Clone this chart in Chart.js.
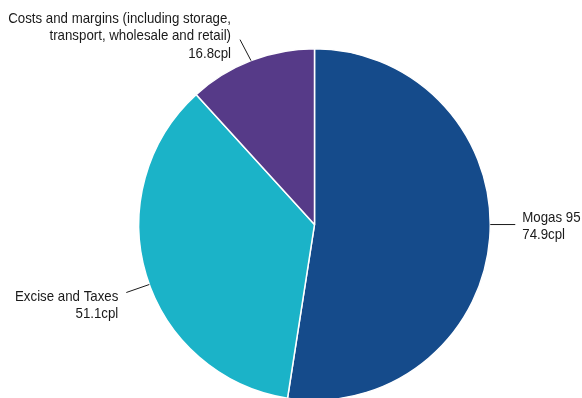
<!DOCTYPE html>
<html>
<head>
<meta charset="utf-8">
<script src="https://cdn.jsdelivr.net/npm/chart.js@4"></script>
<style>
  html, body { margin: 0; padding: 0; background: #fff; overflow: hidden; }
  #wrap { width: 582px; height: 398px; overflow: hidden; }
  #wrap div { width: 582px; height: 410px; position: relative; }
</style>
</head>
<body>
<div id="wrap"><div><canvas id="pieChart"></canvas></div></div>
<script>
const labels = [
  ['Mogas 95'],
  ['Excise and Taxes'],
  ['Costs and margins (including storage,', 'transport, wholesale and retail)']
];
const values = [74.9, 51.1, 16.8];
const colors = ['#154b8b', '#1bb3c8', '#563a88'];

// leader line: angle shift (deg) from slice middle, direction, text placement
const leaders = [
  { shift: -4.4, dx: 25, dy: 0, align: 'left', tx: 7, ty: -7 },
  { shift: -3.2, dx: -23, dy: 8, align: 'right', tx: -8, ty: 4 },
  { shift: 0, dx: -11, dy: -21, align: 'right', tx: -9, ty: -21 }
];
const squeeze = 0.885; // condensed look of the original font

const labelPlugin = {
  id: 'leaderLabels',
  afterDatasetsDraw(chart) {
    const ctx = chart.ctx;
    const meta = chart.getDatasetMeta(0);
    ctx.save();
    ctx.font = '15px "Liberation Sans", Arial, sans-serif';
    ctx.fillStyle = '#1a1a1a';
    ctx.strokeStyle = '#1a1a1a';
    ctx.lineWidth = 1;
    ctx.textBaseline = 'middle';
    meta.data.forEach((arc, i) => {
      const p = arc.getProps(['x', 'y', 'startAngle', 'endAngle', 'outerRadius'], true);
      const L = leaders[i];
      const mid = (p.startAngle + p.endAngle) / 2 + L.shift * Math.PI / 180;
      const sx = p.x + Math.cos(mid) * p.outerRadius;
      const sy = p.y + Math.sin(mid) * p.outerRadius;
      const ex = sx + L.dx, ey = sy + L.dy;
      ctx.beginPath();
      ctx.moveTo(sx, sy);
      ctx.lineTo(ex, ey);
      ctx.stroke();
      const lines = labels[i].concat([values[i].toFixed(1) + 'cpl']);
      ctx.textAlign = L.align;
      lines.forEach((t, k) => {
        ctx.save();
        ctx.translate(ex + L.tx, ey + L.ty + k * 17.5);
        ctx.scale(squeeze, 1);
        ctx.fillText(t, 0, 0);
        ctx.restore();
      });
    });
    ctx.restore();
  }
};

new Chart(document.getElementById('pieChart'), {
  type: 'pie',
  data: {
    labels: labels.map(l => l.join(' ')),
    datasets: [{
      data: values,
      backgroundColor: colors,
      borderColor: '#ffffff',
      borderWidth: 1.5
    }]
  },
  options: {
    responsive: true,
    maintainAspectRatio: false,
    animation: false,
    layout: { padding: { left: 138, right: 91, top: 48, bottom: 9 } },
    plugins: {
      legend: { display: false },
      tooltip: { enabled: false }
    }
  },
  plugins: [labelPlugin]
});
</script>
</body>
</html>
